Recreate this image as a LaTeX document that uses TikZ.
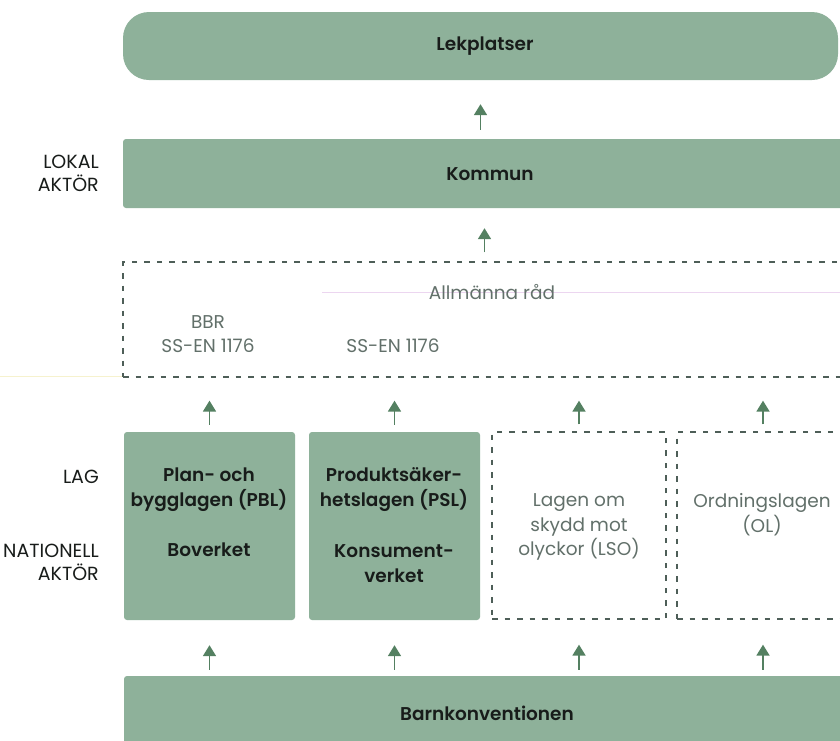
\documentclass[tikz,border=0pt]{standalone}
\usepackage{fontspec}
\setmainfont{Poppins}[BoldFont={Poppins SemiBold}]
\usetikzlibrary{arrows.meta}
\definecolor{boxgreen}{RGB}{142,177,154}
\definecolor{arrgreen}{RGB}{84,128,97}
\definecolor{dashgray}{RGB}{78,94,88}
\definecolor{softtext}{RGB}{98,112,106}
\definecolor{inktext}{RGB}{24,28,26}
\tikzset{
  fullbox/.style={fill=boxgreen, draw=none, inner sep=0pt},
  dashbox/.style={draw=dashgray, line width=1.3pt, dash pattern=on 5.5pt off 7pt, inner sep=0pt},
  arr/.style={draw=arrgreen, line width=1.8pt, -{Triangle[width=13pt,length=11pt]}},
  boldtxt/.style={font=\fontsize{18.5}{24.5}\selectfont\bfseries, text=inktext, align=center, inner sep=0pt},
  softtxt/.style={font=\fontsize{18.5}{24.5}\selectfont, text=softtext, align=center, inner sep=0pt},
  sidetxt/.style={font=\fontsize{19}{23}\selectfont, text=inktext, align=right, anchor=east, inner sep=0pt},
}
\begin{document}
\begin{tikzpicture}[x=1pt,y=-1pt]
\useasboundingbox (0,0) rectangle (840,740);
\fill[white] (0,0) rectangle (840,740);
% faint scan lines
\draw[line width=0.6pt, color={rgb,255:red,236;green,214;blue,240}] (322,292) -- (840,292);
\draw[line width=0.8pt, color={rgb,255:red,246;green,242;blue,206}] (0,376) -- (123,376);
% boxes
\node[fullbox, rounded corners=26pt, minimum width=715pt, minimum height=68pt] (lek) at (480.5,46) {};
\node[fullbox, rounded corners=3pt, minimum width=737pt, minimum height=69pt] (kom) at (491.5,173.5) {};
\node[dashbox, minimum width=737pt, minimum height=115pt] (allm) at (491.5,319.5) {};
\node[fullbox, rounded corners=3pt, minimum width=171pt, minimum height=188pt] (pbl) at (209.5,526) {};
\node[fullbox, rounded corners=3pt, minimum width=171pt, minimum height=188pt] (psl) at (394.5,526) {};
\node[dashbox, minimum width=174pt, minimum height=187pt] (lso) at (579,525.5) {};
\node[dashbox, minimum width=172pt, minimum height=187pt] (ol) at (763,525.5) {};
\node[fullbox, rounded corners=3pt, minimum width=736pt, minimum height=84pt] (barn) at (492,718) {};
% texts
\node[boldtxt] (tlek) at (485,46) {Lekplatser};
\node[boldtxt] (tkom) at (490,174) {Kommun};
\node[softtxt] (tallm) at (492,292) {Allmänna råd};
\node[softtxt] (tbbr) at (208,334) {BBR\\SS-EN 1176};
\node[softtxt] (tss) at (393,346) {SS-EN 1176};
\node[boldtxt] (tpbl) at (209,489.5) {Plan- och\\bygglagen (PBL)};
\node[boldtxt] (tbov) at (209,550) {Boverket};
\node[boldtxt] (tpsl) at (394,489.5) {Produktsäker-\\hetslagen (PSL)};
\node[boldtxt] (tkon) at (394,563.5) {Konsument-\\verket};
\node[softtxt] (tlso) at (579,527) {Lagen om\\skydd mot\\olyckor (LSO)};
\node[softtxt] (tol) at (762,514.5) {Ordningslagen\\(OL)};
\node[boldtxt] (tbarn) at (487,713) {Barnkonventionen};
% side labels
\node[sidetxt] (slok) at (99,173.5) {LOKAL\\AKTÖR};
\node[sidetxt] (slag) at (99,477) {LAG};
\node[sidetxt] (snat) at (99,562.5) {NATIONELL\\AKTÖR};
% arrows
\coordinate (ak) at ([xshift=4pt]lek.south |- kom.south);
\draw[arr, shorten <=9pt, shorten >=24pt] (lek.south |- kom.north) -- (lek.south);
\draw[arr, shorten <=9pt, shorten >=20pt] (ak |- allm.north) -- (ak);
\foreach \b in {pbl,psl,lso} {
  \draw[arr, shorten <=7pt, shorten >=23pt] (\b.north) -- (\b.north |- allm.south);
  \draw[arr, shorten <=6pt, shorten >=25pt] (\b.south |- barn.north) -- (\b.south);
}
\draw[arr, shorten <=7pt, shorten >=23pt] (ol.north) -- (ol.north |- allm.south);
\draw[arr, shorten <=6pt, shorten >=25pt] (ol.south |- barn.north) -- (ol.south);
\end{tikzpicture}
\end{document}
